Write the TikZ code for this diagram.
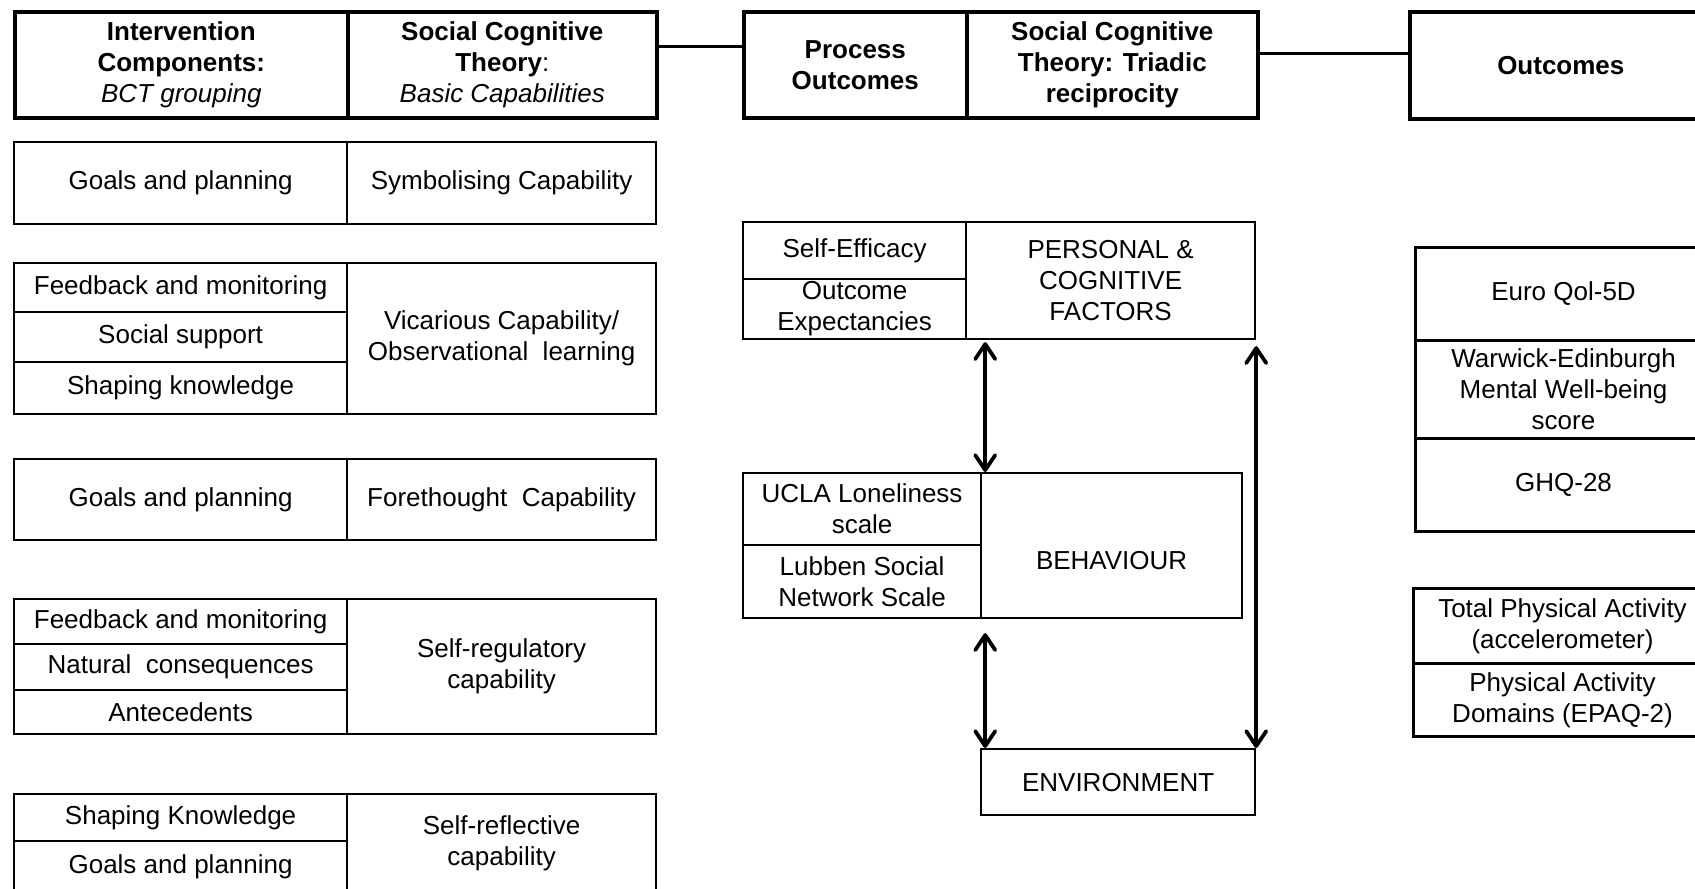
\documentclass[tikz,border=0pt]{standalone}
\usepackage{fontspec}
\setmainfont{Liberation Sans}
\usetikzlibrary{arrows.meta}
\newcommand\fsz{\fontsize{13}{15.5}\selectfont}
\tikzset{
  cell/.style={draw, line width=1.1pt, anchor=north west, inner sep=0pt, align=center, font=\fsz},
  hcell/.style={cell, line width=1.8pt, font=\fsz\bfseries},
  ocell/.style={cell, line width=1.5pt},
  conn/.style={line width=1.6pt},
  dbl/.style={line width=1.9pt, {Straight Barb[length=7.5pt,width=10pt,round]}-{Straight Barb[length=7.5pt,width=10pt,round]}}
}
\begin{document}
\begin{tikzpicture}[x=1pt,y=-1pt]
\clip (0,0) rectangle (847.5,444);
\fill[white] (0,0) rectangle (847.5,444);
% headers
\node[hcell, minimum width=166.5pt, minimum height=53pt] (h1a) at (6.5,5) {Intervention\\Components:\\{\mdseries\itshape BCT grouping}};
\node[hcell, minimum width=154.5pt, minimum height=53pt] (h1b) at (173,5) {Social Cognitive\\Theory{\mdseries:}\\{\mdseries\itshape Basic Capabilities}};
\node[hcell, minimum width=111.5pt, minimum height=53pt] (h2a) at (371,5) {Process\\Outcomes};
\node[hcell, minimum width=145.5pt, minimum height=53pt] (h2b) at (482.5,5) {Social Cognitive\\Theory: Triadic\\reciprocity};
\node[hcell, minimum width=151pt, minimum height=53.5pt] (h3) at (704,5) {Outcomes};
\draw[conn] ([yshift=9pt]h1b.east) coordinate (c1) -- (h2a.west |- c1);
\draw[conn] ([yshift=5.5pt]h2b.east) coordinate (c2) -- (h3.west |- c2);
% row 1
\node[cell, minimum width=166.5pt, minimum height=41pt] (r1a) at (6.5,70.5) {Goals and planning};
\node[cell, minimum width=154.5pt, minimum height=41pt] (r1b) at (173,70.5) {Symbolising Capability};
% row 2
\node[cell, minimum width=166.5pt, minimum height=24.5pt] (r2a) at (6.5,131) {Feedback and monitoring};
\node[cell, minimum width=166.5pt, minimum height=25pt] (r2b) at (6.5,155.5) {Social support};
\node[cell, minimum width=166.5pt, minimum height=26pt] (r2c) at (6.5,180.5) {Shaping knowledge};
\node[cell, minimum width=154.5pt, minimum height=75.5pt] (r2d) at (173,131) {Vicarious Capability/\\Observational\ \ learning};
% row 3
\node[cell, minimum width=166.5pt, minimum height=40.5pt] (r3a) at (6.5,229) {Goals and planning};
\node[cell, minimum width=154.5pt, minimum height=40.5pt] (r3b) at (173,229) {Forethought\ \ Capability};
% row 4
\node[cell, minimum width=166.5pt, minimum height=22.5pt] (r4a) at (6.5,299) {Feedback and monitoring};
\node[cell, minimum width=166.5pt, minimum height=23pt] (r4b) at (6.5,321.5) {Natural\ \ consequences};
\node[cell, minimum width=166.5pt, minimum height=22pt] (r4c) at (6.5,344.5) {Antecedents};
\node[cell, minimum width=154.5pt, minimum height=67.5pt] (r4d) at (173,299) {Self-regulatory\\capability};
% row 5
\node[cell, minimum width=166.5pt, minimum height=23.5pt] (r5a) at (6.5,396.5) {Shaping Knowledge};
\node[cell, minimum width=166.5pt, minimum height=25.5pt] (r5b) at (6.5,420) {Goals and planning};
\node[cell, minimum width=154.5pt, minimum height=49pt] (r5c) at (173,396.5) {Self-reflective\\capability};
% personal
\node[cell, minimum width=111.5pt, minimum height=28.5pt] (pa) at (371,110.5) {Self-Efficacy};
\node[cell, minimum width=111.5pt, minimum height=30pt] (pb) at (371,139) {Outcome\\Expectancies};
\node[cell, minimum width=144.5pt, minimum height=58.5pt] (pc) at (482.5,110.5) {PERSONAL \&\\COGNITIVE\\FACTORS};
% behaviour
\node[cell, minimum width=119pt, minimum height=36pt] (ba) at (371,236) {UCLA Loneliness\\scale};
\node[cell, minimum width=119pt, minimum height=36.5pt] (bb) at (371,272) {Lubben Social\\Network Scale};
\node[cell, minimum width=130.5pt, minimum height=72.5pt, label={[font=\fsz, yshift=-7.5pt]center:BEHAVIOUR}] (bc) at (490,236) {};
% environment
\node[cell, minimum width=137pt, minimum height=33pt] (env) at (490,374) {ENVIRONMENT};
% arrows
\draw[dbl] (ba.north east |- pc.south) ++(1.5,1) coordinate (a1) -- (ba.north east -| a1);
\draw[dbl] (bb.south east) ++(1.5,7) coordinate (b1) -- (env.north west -| b1);
\draw[dbl] (pc.south east) ++(0,3) coordinate (p1) -- (env.north east -| p1);
% outcomes
\node[ocell, minimum width=148pt, minimum height=46.5pt] (o1) at (707,123) {Euro Qol-5D};
\node[ocell, minimum width=148pt, minimum height=49pt] (o2) at (707,169.5) {Warwick-Edinburgh\\Mental Well-being\\score};
\node[ocell, minimum width=148pt, minimum height=46.5pt] (o3) at (707,218.5) {GHQ-28};
\node[ocell, minimum width=149pt, minimum height=37.5pt] (o4) at (706,293.5) {Total Physical Activity\\(accelerometer)};
\node[ocell, minimum width=149pt, minimum height=36.5pt] (o5) at (706,331) {Physical Activity\\Domains (EPAQ-2)};
\end{tikzpicture}
\end{document}
